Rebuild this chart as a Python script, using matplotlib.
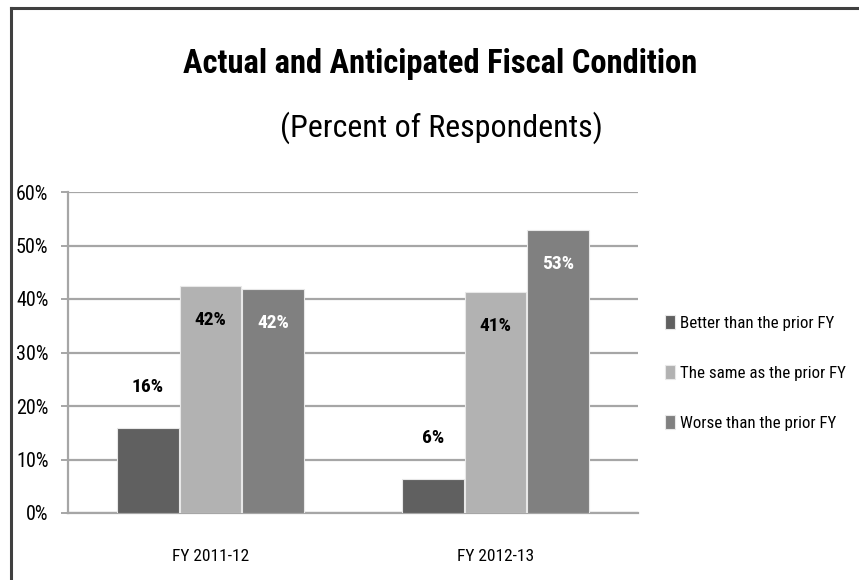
import numpy as np
import matplotlib
matplotlib.use("Agg")
import matplotlib.pyplot as plt
from matplotlib import font_manager
from matplotlib.lines import Line2D

# data
categories = ["FY 2011-12", "FY 2012-13"]
series_names = ["Better than the prior FY", "The same as the prior FY", "Worse than the prior FY"]
better = [15.9, 6.4]
same = [42.4, 41.3]
worse = [41.9, 52.9]
labels_better = ["16%", "6%"]
labels_same = ["42%", "41%"]
labels_worse = ["42%", "53%"]
yticks = [0, 10, 20, 30, 40, 50, 60]

# pick a narrow font if one is installed
names = {f.name for f in font_manager.fontManager.ttflist}
font = "DejaVu Sans"
for cand in ["Liberation Sans Narrow", "DejaVu Sans Condensed", "Roboto Condensed", "Open Sans Condensed"]:
    if cand in names:
        font = cand
        break
plt.rcParams["font.family"] = [font, "DejaVu Sans"]

fig = plt.figure(figsize=(8.59, 5.80), dpi=100)
W, H = 859, 580

# outer border (top + left only visible)
fig.add_artist(Line2D([11 / W, 11 / W], [0, 1 - 8 / H], color="#404040", lw=2.2, transform=fig.transFigure))
fig.add_artist(Line2D([11 / W, 1], [1 - 8 / H, 1 - 8 / H], color="#404040", lw=2.2, transform=fig.transFigure))

ax = fig.add_axes([68 / W, 1 - 513 / H, (638 - 68) / W, (513 - 192) / H])

x = np.arange(len(categories))
bw = 0.22
colors = ["#606060", "#b2b2b2", "#808080"]
series = [better, same, worse]

ax.set_axisbelow(True)
ax.yaxis.grid(True, color="#a6a6a6", lw=1.6)
for i, (vals, col) in enumerate(zip(series, colors)):
    ax.bar(x + (i - 1) * bw, vals, width=bw * 0.98, color=col, edgecolor="#e8e8e8", lw=0.8, zorder=3,
           label=series_names[i])

for j in range(len(categories)):
    ax.text(x[j] - bw, better[j] + 7.7, labels_better[j], ha="center", va="center",
            fontsize=14, fontweight="bold", color="black")
    ax.text(x[j], same[j] - 6.3, labels_same[j], ha="center", va="center",
            fontsize=14, fontweight="bold", color="black")
    ax.text(x[j] + bw, worse[j] - 6.3, labels_worse[j], ha="center", va="center",
            fontsize=14, fontweight="bold", color="white")

ax.set_xlim(-0.5, 1.5)
ax.set_ylim(0, 60)
ax.set_yticks(yticks)
ax.set_yticklabels([f"{t}%" for t in yticks], fontsize=14.5)
ax.set_xticks(x)
ax.set_xticklabels(categories, fontsize=12.5)
ax.tick_params(axis="y", length=5, color="#a6a6a6", width=1.4, pad=9)
ax.tick_params(axis="x", length=0, pad=26)
for s in ["top", "right"]:
    ax.spines[s].set_visible(False)
ax.spines["left"].set_color("#a6a6a6")
ax.spines["left"].set_linewidth(1.6)
ax.spines["bottom"].set_color("#a6a6a6")
ax.spines["bottom"].set_linewidth(1.6)

ax.legend(loc="center left", bbox_to_anchor=(1.021, 0.436), frameon=False, fontsize=12.2,
          handlelength=0.6, handleheight=0.9, handletextpad=0.25, labelspacing=2.0)

fig.text(440 / W, 1 - 64 / H, "Actual and Anticipated Fiscal Condition", ha="center", va="center",
         fontsize=23.5, fontweight="bold")
fig.text(441 / W, 1 - 128 / H, "(Percent of Respondents)", ha="center", va="center", fontsize=23)

fig.savefig("out.png", dpi=100)
